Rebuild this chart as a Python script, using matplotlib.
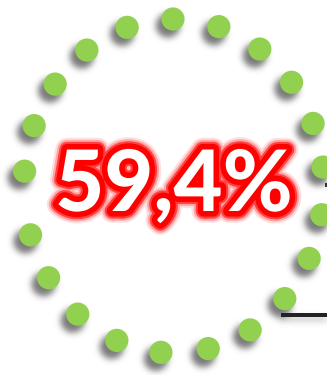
import numpy as np
import matplotlib
matplotlib.use("Agg")
import matplotlib.pyplot as plt
import matplotlib.patheffects as pe
from matplotlib.patches import Circle, Rectangle

# Ring of progress dots (angle in degrees, clockwise from 12 o'clock)
dot_angles = [-0.4, 17.4, 34.9, 51.6, 68.0, 83.5, 99.9, 115.7, 132.4, 149.5,
              166.8, 185.0, 202.4, 219.9, 236.7, 253.0, 275.1, 291.2, 307.6,
              324.5, 341.8]
value_label = "59,4%"

W, H = 327, 375
fig = plt.figure(figsize=(W / 100, H / 100), dpi=100)
ax = fig.add_axes([0, 0, 1, 1])
ax.set_xlim(0, W)
ax.set_ylim(H, 0)
ax.axis("off")

cx, cy, rx, ry = 174.0, 186.0, 150.0, 167.0
dot_r = 11.6
t = np.radians(dot_angles)
xs = cx + rx * np.sin(t)
ys = cy - ry * np.cos(t)

# soft drop shadows, down-left of each dot
yy, xx = np.mgrid[0:H, 0:W] + 0.5
shadow = np.zeros((H, W))
sdx, sdy = -5.0, 6.5
for x, y in zip(xs, ys):
    d = np.hypot(xx - (x + sdx), yy - (y + sdy))
    shadow = np.maximum(shadow, np.clip(dot_r + 0.5 - d + 0.5, 0, 1))
# shadow of the rule line
shadow[317:321, 279:] = np.maximum(shadow[317:321, 279:], 0.5)


def blur(a, sigma):
    k = np.arange(-int(3 * sigma), int(3 * sigma) + 1)
    g = np.exp(-k ** 2 / (2 * sigma ** 2))
    g /= g.sum()
    a = np.apply_along_axis(lambda r: np.convolve(r, g, mode="same"), 1, a)
    a = np.apply_along_axis(lambda c: np.convolve(c, g, mode="same"), 0, a)
    return a


shadow = blur(shadow, 3.2)
rgba = np.zeros((H, W, 4))
rgba[..., :3] = 0.42
rgba[..., 3] = np.clip(shadow * 0.9, 0, 1)
ax.imshow(rgba, extent=(0, W, H, 0), zorder=1, interpolation="bilinear")

for x, y in zip(xs, ys):
    ax.add_patch(Circle((x, y), dot_r, facecolor="#92D050", edgecolor="none", zorder=2))

# rule line and small mark on the right edge
ax.add_patch(Rectangle((281, 313), 50, 3.6, facecolor="#222222", edgecolor="none", zorder=2))
ax.add_patch(Rectangle((325, 183), 4, 4, facecolor="#333333", edgecolor="none", zorder=2))

txt = ax.text(174, 211, value_label, ha="center", va="baseline",
              fontsize=61, fontweight=900, family=["Lato", "DejaVu Sans"],
              color="white", zorder=5)
txt.set_path_effects([
    pe.Stroke(linewidth=17, foreground=(1, 0, 0, 0.12)),
    pe.Stroke(linewidth=14, foreground=(1, 0, 0, 0.25)),
    pe.Stroke(linewidth=11, foreground=(1, 0, 0, 0.6)),
    pe.Stroke(linewidth=8, foreground=(1, 0, 0, 1.0)),
    pe.Normal(),
])

fig.savefig("out.png", dpi=100, facecolor="white")
